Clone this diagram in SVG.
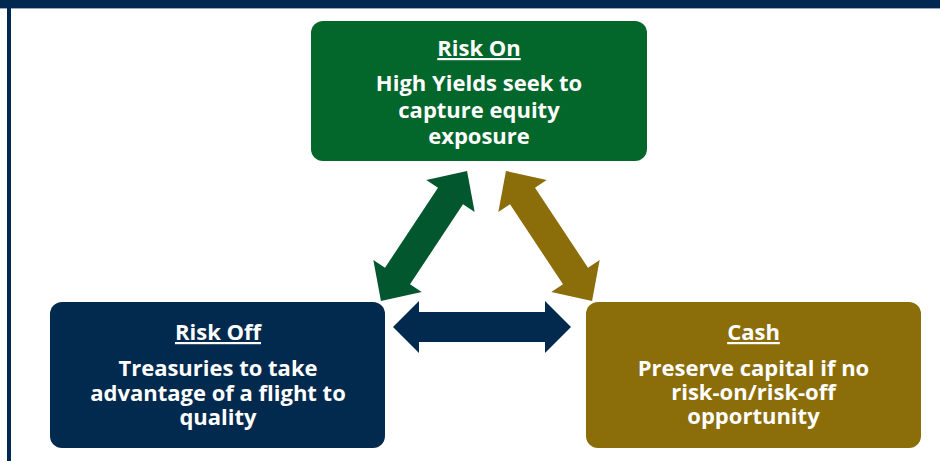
<svg xmlns="http://www.w3.org/2000/svg" width="940" height="461" viewBox="0 0 940 461">
<style>
.t{font-family:"Open Sans","Noto Sans","Liberation Sans",sans-serif;font-weight:700;font-size:22px;fill:#ffffff;text-anchor:middle}
.h{text-decoration:underline}
</style>
<defs>
<path id="dbl" d="M-78 0 L-48 -29 L-48 -15 L48 -15 L48 -29 L78 0 L48 29 L48 15 L-48 15 L-48 29 Z"/>
</defs>
<rect x="0" y="0" width="940" height="461" fill="#ffffff"/>
<rect x="0" y="0" width="940" height="8" fill="#012850"/>
<rect x="0" y="8" width="940" height="1" fill="#9aa8b8"/>
<rect x="7" y="0" width="4" height="461" fill="#012850"/>
<g id="connectors">
<use href="#dbl" transform="translate(424 236) rotate(-56.5)" fill="#03572F"/>
<use href="#dbl" transform="translate(549 236) rotate(56.5)" fill="#8B6D0A"/>
<path d="M-89 0 L-63 -26 L-63 -15 L63 -15 L63 -26 L89 0 L63 26 L63 15 L-63 15 L-63 26 Z" transform="translate(482 327)" fill="#022A4E"/>
</g>
<g id="risk-on">
<rect x="311" y="21" width="336" height="140" rx="12" fill="#03662B"/>
<text class="t h" x="479" y="56">Risk On</text>
<text class="t" x="479" y="91">High Yields seek to</text>
<text class="t" x="479" y="117.5">capture equity</text>
<text class="t" x="479" y="143.5">exposure</text>
</g>
<g id="risk-off">
<rect x="50" y="302" width="335" height="146" rx="12" fill="#022A4E"/>
<text class="t h" x="218" y="340">Risk Off</text>
<text class="t" x="218" y="376">Treasuries to take</text>
<text class="t" x="218" y="401">advantage of a flight to</text>
<text class="t" x="218" y="425">quality</text>
</g>
<g id="cash">
<rect x="586" y="302" width="335" height="146" rx="12" fill="#8B6D0A"/>
<text class="t h" x="753.5" y="340">Cash</text>
<text class="t" x="753.5" y="376">Preserve capital if no</text>
<text class="t" x="753.5" y="400">risk-on/risk-off</text>
<text class="t" x="753.5" y="424">opportunity</text>
</g>
</svg>
